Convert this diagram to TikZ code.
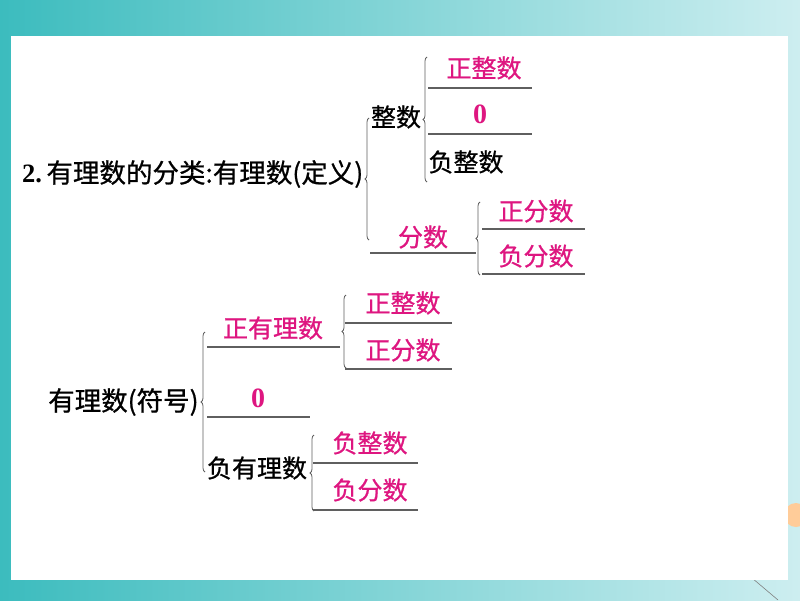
\documentclass[tikz,border=0pt]{standalone}
\usepackage{fontspec}
\setmainfont{Noto Sans CJK SC}[FakeBold=0.8]
\newfontfamily\numfont{Liberation Serif}
\usetikzlibrary{decorations.pathreplacing}
\definecolor{pk}{RGB}{222,22,128}
\definecolor{ln}{RGB}{95,95,95}
\definecolor{tealA}{RGB}{60,188,190}
\definecolor{tealB}{RGB}{205,238,240}
\begin{document}
\begin{tikzpicture}[x=1pt,y=-1pt,
  lbl/.style={inner sep=0pt, font=\fontsize{25}{25}\selectfont},
  blk/.style={lbl, text=black},
  pnk/.style={lbl, text=pk},
  big/.style={inner sep=0pt, text=black, font=\fontsize{26.5}{26.5}\selectfont},
  zero/.style={inner sep=0pt, text=pk, font=\numfont\bfseries\fontsize{28}{28}\selectfont},
  uline/.style={draw=ln, line width=1.1pt},
  brc/.style={draw=ln, line width=0.8pt, decorate, decoration={brace, amplitude=4pt}},
]
\useasboundingbox (0,0) rectangle (800,600);
\shade[left color=tealA, middle color=tealA!75!tealB, right color=tealB] (0,0) rectangle (800,600);
\fill[orange!40] (796,515) circle (12);
\draw[gray, line width=0.6pt] (752,578) -- (778,600);
\fill[white] (11,36) rectangle (788,580);

% part 1
\node[big, anchor=west] (title) at (22,174) {{\numfont\bfseries 2.}\,有理数的分类:有理数(定义)};
\node[blk] (zs) at (396,117) {整数};
\node[pnk] (zzs) at (484,68) {正整数};
\node[zero] (z0) at (480,114) {0};
\node[blk] (fzs) at (466,162) {负整数};
\node[pnk] (fs) at (423,237) {分数};
\node[pnk] (zfs) at (536,211) {正分数};
\node[pnk] (ffs) at (536,256) {负分数};

\coordinate (l1a) at (428,88);  \coordinate (l1b) at (532,88);
\coordinate (l2a) at (428,134); \coordinate (l2b) at (532,134);
\coordinate (l3a) at (370,253); \coordinate (l3b) at (476,253);
\coordinate (l4a) at (482,229); \coordinate (l4b) at (585,229);
\coordinate (l5a) at (482,274); \coordinate (l5b) at (585,274);
\foreach \i in {1,...,5} {\draw[uline] (l\i a) -- (l\i b);}

\coordinate (b1b) at (369,240); \coordinate (b1t) at (369,118);
\coordinate (b2b) at (427,182); \coordinate (b2t) at (427,57);
\coordinate (b3b) at (480,275); \coordinate (b3t) at (480,202);
\foreach \i in {1,2,3} {\draw[brc] (b\i b) -- (b\i t);}

% part 2
\node[big, anchor=west] (fh) at (48,402) {有理数(符号)};
\node[pnk] (zyl) at (273,328) {正有理数};
\node[pnk] (zzs2) at (403,303) {正整数};
\node[pnk] (zfs2) at (403,350) {正分数};
\node[zero] (o2) at (258,398) {0};
\node[blk] (fyl) at (257,468) {负有理数};
\node[pnk] (fzs2) at (370,443) {负整数};
\node[pnk] (ffs2) at (370,490) {负分数};

\coordinate (m1a) at (207,347); \coordinate (m1b) at (340,347);
\coordinate (m2a) at (345,323); \coordinate (m2b) at (452,323);
\coordinate (m3a) at (345,369); \coordinate (m3b) at (452,369);
\coordinate (m4a) at (207,417); \coordinate (m4b) at (310,417);
\coordinate (m5a) at (313,463); \coordinate (m5b) at (418,463);
\coordinate (m6a) at (313,510); \coordinate (m6b) at (418,510);
\foreach \i in {1,...,6} {\draw[uline] (m\i a) -- (m\i b);}

\coordinate (c1b) at (205,472); \coordinate (c1t) at (205,332);
\coordinate (c2b) at (346,368); \coordinate (c2t) at (346,295);
\coordinate (c3b) at (314,511); \coordinate (c3t) at (314,435);
\foreach \i in {1,2,3} {\draw[brc] (c\i b) -- (c\i t);}
\end{tikzpicture}
\end{document}
